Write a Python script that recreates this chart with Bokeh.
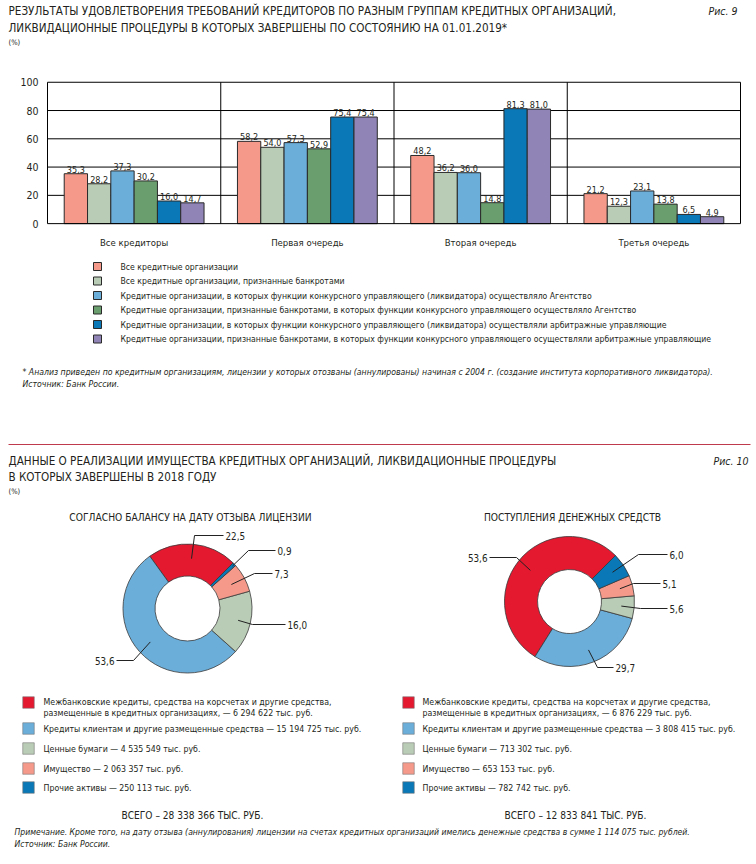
import math
from bokeh.plotting import figure
from bokeh.models import Range1d, FixedTicker
from bokeh.layouts import column
from bokeh.embed import file_html
from bokeh.resources import INLINE
from bokeh.core.properties import value

# ---------------- data ----------------
fig9_title = ["РЕЗУЛЬТАТЫ УДОВЛЕТВОРЕНИЯ ТРЕБОВАНИЙ КРЕДИТОРОВ ПО РАЗНЫМ ГРУППАМ КРЕДИТНЫХ ОРГАНИЗАЦИЙ,",
              "ЛИКВИДАЦИОННЫЕ ПРОЦЕДУРЫ В КОТОРЫХ ЗАВЕРШЕНЫ ПО СОСТОЯНИЮ НА 01.01.2019*"]
groups = ["Все кредиторы", "Первая очередь", "Вторая очередь", "Третья очередь"]
series_names = [
    "Все кредитные организации",
    "Все кредитные организации, признанные банкротами",
    "Кредитные организации, в которых функции конкурсного управляющего (ликвидатора) осуществляло Агентство",
    "Кредитные организации, признанные банкротами, в которых функции конкурсного управляющего осуществляло Агентство",
    "Кредитные организации, в которых функции конкурсного управляющего (ликвидатора) осуществляли арбитражные управляющие",
    "Кредитные организации, признанные банкротами, в которых функции конкурсного управляющего осуществляли арбитражные управляющие",
]
s_all = [35.3, 58.2, 48.2, 21.2]
s_bankrupt = [28.2, 54.0, 36.2, 12.3]
s_agency = [37.3, 57.3, 36.0, 23.1]
s_agency_bankrupt = [30.2, 52.9, 14.8, 13.8]
s_arbitr = [16.0, 75.4, 81.3, 6.5]
s_arbitr_bankrupt = [14.7, 75.4, 81.0, 4.9]
y_ticks = [0, 20, 40, 60, 80, 100]
fig9_notes = ["* Анализ приведен по кредитным организациям, лицензии у которых отозваны (аннулированы) начиная с 2004 г. (создание института корпоративного ликвидатора).",
              "Источник: Банк России."]

fig10_title = ["ДАННЫЕ О РЕАЛИЗАЦИИ ИМУЩЕСТВА КРЕДИТНЫХ ОРГАНИЗАЦИЙ, ЛИКВИДАЦИОННЫЕ ПРОЦЕДУРЫ",
               "В КОТОРЫХ ЗАВЕРШЕНЫ В 2018 ГОДУ"]
pie_titles = ["СОГЛАСНО БАЛАНСУ НА ДАТУ ОТЗЫВА ЛИЦЕНЗИИ", "ПОСТУПЛЕНИЯ ДЕНЕЖНЫХ СРЕДСТВ"]
asset_names = ["Межбанковские кредиты, средства на корсчетах и другие средства,",
               "Кредиты клиентам и другие размещенные средства",
               "Ценные бумаги", "Имущество", "Прочие активы"]
asset_name_line2 = "размещенные в кредитных организациях,"
left_share = [22.5, 53.6, 16.0, 7.3, 0.9]
right_share = [53.6, 29.7, 5.6, 5.1, 6.0]
left_amount = ["6 294 622", "15 194 725", "4 535 549", "2 063 357", "250 113"]
right_amount = ["6 876 229", "3 808 415", "713 302", "653 153", "782 742"]
left_total = "28 338 366"
right_total = "12 833 841"
fig10_notes = ["Примечание. Кроме того, на дату отзыва (аннулирования) лицензии на счетах кредитных организаций имелись денежные средства в сумме 1 114 075 тыс. рублей.",
               "Источник: Банк России."]

# ---------------- styles / layout ----------------
FONT = "DejaVu Sans Condensed, Roboto, sans-serif"
TXT = "#231F20"
EDGE = "#2a2a2a"
bar_colors = ["#F59A8A", "#B9CCB5", "#6BAEDA", "#6A9E6E", "#0A77B6", "#8F84B5"]
pie_colors = ["#E4182F", "#6BAEDA", "#B9CCB5", "#F59A8A", "#0A77B6"]
W = 756
PLOT_L, PLOT_R, PLOT_T, PLOT_B = 47, 740, 82, 227   # bar-chart area, page pixels


def make_canvas(top, h):
    p = figure(width=W, height=h, x_range=Range1d(0, W), y_range=Range1d(0, h),
               output_backend="svg", toolbar_location=None,
               x_axis_location=None, y_axis_location=None, min_border=0)
    p.min_border_left = p.min_border_right = p.min_border_top = p.min_border_bottom = 0
    p.grid.visible = False
    p.outline_line_color = None
    X = lambda x: x
    Y = lambda y: h - (y - top)
    return p, X, Y


def put(p, X, Y, xs, ys, texts, size, align="left", style="normal", color=TXT, font=FONT):
    p.text(x=[X(v) for v in xs], y=[Y(v) for v in ys], text=list(texts),
           text_font=value(font), text_font_size=value(f"{size}px"), text_font_style=style,
           text_align=align, text_baseline="middle", text_color=color)


# ---------------- header fig 9 ----------------
h1, X1, Y1 = make_canvas(0, 72)
put(h1, X1, Y1, [8, 8], [10.5, 27], fig9_title, 11.6)
put(h1, X1, Y1, [8], [42], ["(%)"], 7.5)
put(h1, X1, Y1, [737], [10.5], ["Рис. 9"], 10.5, align="right", style="italic")

# ---------------- bar chart ----------------
BAR_TOP, BAR_H = 72, 178
ng = len(groups)
unit = (PLOT_R - PLOT_L) / ng
ysc = (PLOT_B - PLOT_T) / 100.0
frame_bottom = 232
bar = figure(width=W, height=BAR_H,
             x_range=Range1d(-PLOT_L / unit, (W - PLOT_L) / unit),
             y_range=Range1d(-(frame_bottom - PLOT_B) / ysc, 100 + (PLOT_T - BAR_TOP) / ysc),
             output_backend="svg", toolbar_location=None, y_axis_location=None,
             min_border_left=0, min_border_right=0, min_border_top=0,
             min_border_bottom=BAR_TOP + BAR_H - frame_bottom)
bar.outline_line_color = None
bar.grid.visible = False
bar.xaxis.ticker = FixedTicker(ticks=[g + 0.5 for g in range(ng)])
bar.xaxis.major_label_overrides = {g + 0.5: name for g, name in enumerate(groups)}
bar.xaxis.axis_line_color = None
bar.xaxis.major_tick_line_color = None
bar.xaxis.minor_tick_line_color = None
bar.xaxis.major_label_text_font = FONT
bar.xaxis.major_label_text_font_size = "9.5px"
bar.xaxis.major_label_text_color = TXT
bar.xaxis.major_label_standoff = 2

# grid lines, group separators, frame (in data units)
inner = y_ticks[1:-1]
bar.segment(x0=[0] * len(inner), x1=[ng] * len(inner), y0=inner, y1=inner, line_color="black", line_width=1)
bar.segment(x0=list(range(1, ng)), x1=list(range(1, ng)), y0=[0] * (ng - 1), y1=[100] * (ng - 1),
            line_color="black", line_width=1)
all_series = [s_all, s_bankrupt, s_agency, s_agency_bankrupt, s_arbitr, s_arbitr_bankrupt]
bw = 0.1345
n = len(all_series)
for i, (vals, col) in enumerate(zip(all_series, bar_colors)):
    xs = [g + 0.5 + (i - (n - 1) / 2) * bw for g in range(ng)]
    bar.vbar(x=xs, top=vals, width=bw, fill_color=col, line_color=EDGE, line_width=1)
    bar.text(x=xs, y=vals, text=[f"{v:.1f}".replace(".", ",") for v in vals],
             text_font=value(FONT), text_font_size=value("9px"), text_color=TXT,
             text_align="center", text_baseline="bottom", y_offset=-1)
bar.quad(left=[0], right=[ng], bottom=[y_ticks[0]], top=[y_ticks[-1]],
         fill_color=None, line_color="black", line_width=1)
# y tick labels
bar.text(x=[-9 / unit] * len(y_ticks), y=y_ticks, text=[str(t) for t in y_ticks],
         text_font=value(FONT), text_font_size=value("10.5px"), text_color=TXT,
         text_align="right", text_baseline="middle")

# ---------------- legend + notes fig 9 ----------------
h3, X3, Y3 = make_canvas(250, 190)
rows = [266, 280.5, 295, 309.5, 324, 338.5]
h3.rect(x=[X3(97)] * n, y=[Y3(r) for r in rows], width=8, height=8,
        fill_color=bar_colors, line_color=EDGE, line_width=1)
put(h3, X3, Y3, [120] * n, rows, series_names, 8.65)
put(h3, X3, Y3, [22, 22], [371, 383], fig9_notes, 8.65, style="italic")

# ---------------- fig 10 ----------------
h4, X4, Y4 = make_canvas(440, 424)
h4.line(x=[X4(8), X4(750)], y=[Y4(444), Y4(444)], line_color="#BE3A4C", line_width=1)
put(h4, X4, Y4, [8, 8], [460, 476], fig10_title, 11.6)
put(h4, X4, Y4, [8], [491], ["(%)"], 7.5)
put(h4, X4, Y4, [748], [460], ["Рис. 10"], 10.5, align="right", style="italic")
put(h4, X4, Y4, [190, 572], [517, 517], pie_titles, 10.2, align="center")

donuts = [
    dict(share=left_share, cx=187, cy=608, r_out=64.5, r_in=32.5,
         lead_r=[50, 50, 52, 50, 62],
         elbow=[(194, 535), (133, 660), (252, 624), (254, 573), (248, 550)],
         end=[(223, 535), (116, 660), (285, 624), (272, 573), (275, 550)]),
    dict(share=right_share, cx=569, cy=601, r_out=65, r_in=32,
         lead_r=[50, 52, 52, 52, 52],
         elbow=[(516, 557), (597, 667), (640, 608), (633, 583), (638, 554)],
         end=[(489, 557), (613, 667), (667, 608), (660, 583), (667, 554)]),
]
for d in donuts:
    tot = sum(d["share"])
    starts, ends = [], []
    a = math.pi / 4
    for v in d["share"]:
        starts.append(a)
        a += 2 * math.pi * v / tot
        ends.append(a)
    h4.annular_wedge(x=[X4(d["cx"])] * len(starts), y=[Y4(d["cy"])] * len(starts),
                     inner_radius=d["r_in"], outer_radius=d["r_out"],
                     start_angle=starts, end_angle=ends,
                     fill_color=pie_colors, line_color="#3a3a3a", line_width=0.8)
    xs, ys = [], []
    for k, v in enumerate(d["share"]):
        mid = (starts[k] + ends[k]) / 2
        sx = d["cx"] + d["lead_r"][k] * math.cos(mid)
        sy = d["cy"] - d["lead_r"][k] * math.sin(mid)
        ex, ey = d["elbow"][k]
        tx, ty = d["end"][k]
        xs.append([X4(sx), X4(ex), X4(tx)])
        ys.append([Y4(sy), Y4(ey), Y4(ty)])
        left_side = tx < ex
        put(h4, X4, Y4, [tx + (-2 if left_side else 2)], [ty], [f"{v:.1f}".replace(".", ",")], 9.8,
            align="right" if left_side else "left")
    h4.multi_line(xs=xs, ys=ys, line_color="#222222", line_width=1)

leg_rows = [702, 728, 748, 768, 787]
for sq_x, tx_x, amounts in [(28, 43, left_amount), (408, 422, right_amount)]:
    h4.rect(x=[X4(sq_x)] * 5, y=[Y4(r) for r in leg_rows], width=11.5, height=11.5,
            fill_color=pie_colors, line_color="#777777", line_width=0.6)
    texts = [asset_names[0]] + [f"{asset_names[k]} — {amounts[k]} тыс.  руб." for k in range(1, 5)]
    put(h4, X4, Y4, [tx_x] * 5, [701] + leg_rows[1:], texts, 8.75)
    put(h4, X4, Y4, [tx_x], [712.5], [f"{asset_name_line2} — {amounts[0]} тыс.  руб."], 8.75)

put(h4, X4, Y4, [192, 575], [815, 815],
    [f"ВСЕГО – {left_total} ТЫС. РУБ.", f"ВСЕГО – {right_total} ТЫС. РУБ."], 10.1, align="center")
put(h4, X4, Y4, [14, 14], [831, 843], fig10_notes, 8.55, style="italic")

page = column(h1, bar, h3, h4, spacing=0)
open("out.html", "w").write(file_html(page, INLINE))
